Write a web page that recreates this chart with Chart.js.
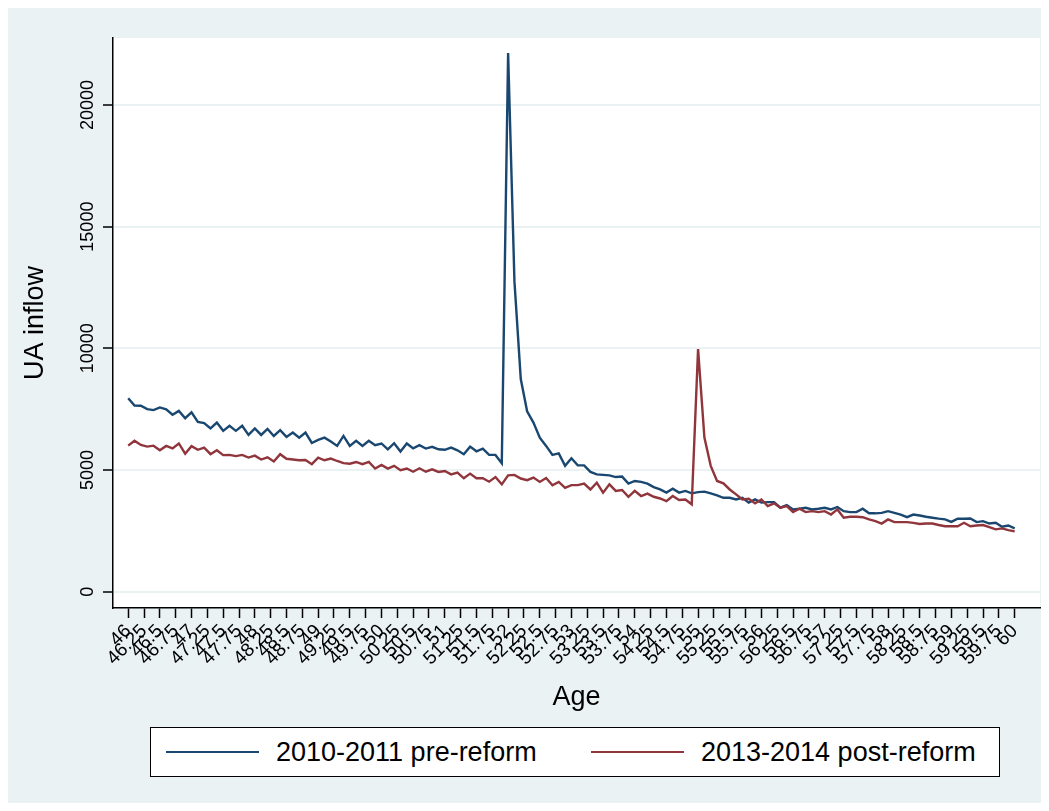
<!DOCTYPE html>
<html>
<head>
<meta charset="utf-8">
<script src="https://cdn.jsdelivr.net/npm/chart.js@4.4.1/dist/chart.umd.min.js"></script>
<style>
html, body { margin: 0; padding: 0; background: #fff; }
#wrap { position: relative; width: 1049px; height: 811px; }
canvas { display: block; }
#legend {
    position: absolute; left: 150px; top: 727px; width: 850px; height: 50px;
    border: 1px solid #000; background: #fff; box-sizing: border-box;
    display: flex; align-items: center; padding-left: 15px;
    font-family: 'Liberation Sans', Arial, Helvetica, sans-serif; font-size: 27px; color: #000;
    white-space: nowrap;
}
#legend .item { display: flex; align-items: center; flex: none; }
#legend .item:first-child { width: 425px; }
#legend .swatch { width: 93px; height: 0; border-top: 2px solid; margin-right: 17px; }
</style>
</head>
<body>
<div id="wrap">
<canvas id="uaChart" width="1049" height="811"></canvas>
<div id="legend"></div>
</div>
<script>
// Age grid: one point every 0.1 year from 46 to 60
const ages = [];
for (let i = 0; i <= 140; i++) ages.push(Math.round((46 + i * 0.1) * 10) / 10);

// UA inflow, 2010-2011 (pre-reform)
const preReform = [
    7950, 7650, 7640, 7500, 7460, 7570, 7490, 7270, 7430, 7130,
    7370, 6980, 6930, 6710, 6950, 6610, 6820, 6610, 6820, 6440,
    6710, 6440, 6690, 6400, 6640, 6360, 6540, 6330, 6540, 6110,
    6240, 6330, 6170, 5990, 6400, 5990, 6200, 5990, 6200, 6020,
    6090, 5850, 6100, 5760, 6090, 5890, 6020, 5880, 5950, 5850,
    5830, 5920, 5810, 5650, 5960, 5770, 5880, 5620, 5620, 5280,
    22130, 12750, 8740, 7410, 6950, 6330, 5990, 5620, 5680, 5170,
    5480, 5190, 5190, 4920, 4820, 4800, 4780, 4710, 4730, 4440,
    4550, 4510, 4440, 4300, 4200, 4070, 4230, 4070, 4140, 4040,
    4090, 4110, 4040, 3960, 3860, 3860, 3790, 3860, 3660, 3790,
    3660, 3680, 3680, 3450, 3560, 3380, 3410, 3450, 3380, 3410,
    3450, 3380, 3480, 3310, 3270, 3270, 3410, 3220, 3220, 3240,
    3310, 3240, 3170, 3060, 3170, 3130, 3080, 3040, 3000, 2970,
    2870, 3000, 3000, 3010, 2860, 2900, 2800, 2830, 2670, 2720,
    2600
];

// UA inflow, 2013-2014 (post-reform)
const postReform = [
    6000, 6200, 6030, 5960, 6000, 5810, 5990, 5890, 6090, 5670,
    5980, 5830, 5920, 5650, 5810, 5610, 5620, 5570, 5620, 5510,
    5590, 5430, 5520, 5350, 5650, 5460, 5430, 5400, 5410, 5240,
    5510, 5400, 5470, 5370, 5280, 5260, 5330, 5240, 5330, 5060,
    5210, 5060, 5170, 4990, 5060, 4930, 5070, 4930, 5030, 4920,
    4960, 4820, 4890, 4660, 4850, 4660, 4660, 4520, 4710, 4410,
    4780, 4800, 4650, 4580, 4690, 4510, 4670, 4370, 4510, 4270,
    4380, 4380, 4440, 4200, 4480, 4070, 4410, 4140, 4180, 3900,
    4140, 3930, 4030, 3900, 3830, 3720, 3930, 3770, 3790, 3590,
    9970, 6330, 5170, 4550, 4450, 4200, 4000, 3790, 3820, 3630,
    3790, 3520, 3630, 3450, 3520, 3270, 3410, 3270, 3310, 3270,
    3310, 3170, 3380, 3040, 3080, 3080, 3060, 2970, 2900, 2800,
    2970, 2860, 2860, 2860, 2830, 2780, 2800, 2800, 2740, 2690,
    2690, 2690, 2830, 2690, 2720, 2740, 2650, 2560, 2600, 2530,
    2480
];

const seriesLabels = ['2010-2011 pre-reform', '2013-2014 post-reform'];
const seriesColors = ['#1a476f', '#90353b'];

const xTicks = [
    46, 46.25, 46.5, 46.75, 47, 47.25, 47.5, 47.75, 48, 48.25, 48.5, 48.75,
    49, 49.25, 49.5, 49.75, 50, 50.25, 50.5, 50.75, 51, 51.25, 51.5, 51.75,
    52, 52.25, 52.5, 52.75, 53, 53.25, 53.5, 53.75, 54, 54.25, 54.5, 54.75,
    55, 55.25, 55.5, 55.75, 56, 56.25, 56.5, 56.75, 57, 57.25, 57.5, 57.75,
    58, 58.25, 58.5, 58.75, 59, 59.25, 59.5, 59.75, 60
];
const yTicks = [0, 5000, 10000, 15000, 20000];

const FONT = "'Liberation Sans', Arial, Helvetica, sans-serif";
Chart.defaults.font.family = FONT;
Chart.defaults.color = '#000';

const toPoints = (vals) => vals.map((v, i) => ({ x: ages[i], y: v }));

// Stata-like background: light graph region, white plot region
const backgroundPlugin = {
    id: 'stataBackground',
    beforeDraw(chart) {
        const { ctx, chartArea: a, width, height } = chart;
        ctx.save();
        ctx.fillStyle = '#ffffff';
        ctx.fillRect(0, 0, width, height);
        ctx.fillStyle = '#eaf2f3';
        ctx.fillRect(8, 8, width - 16, height - 16);
        ctx.fillStyle = '#ffffff';
        ctx.fillRect(a.left, a.top, a.right - a.left, a.bottom - a.top);
        ctx.restore();
    }
};

const ctx = document.getElementById('uaChart').getContext('2d');
const uaChart = new Chart(ctx, {
    type: 'line',
    data: {
        datasets: [
            {
                label: seriesLabels[0],
                data: toPoints(preReform),
                borderColor: seriesColors[0],
                backgroundColor: seriesColors[0],
                borderWidth: 2.4,
                pointRadius: 0,
                tension: 0,
                order: 1
            },
            {
                label: seriesLabels[1],
                data: toPoints(postReform),
                borderColor: seriesColors[1],
                backgroundColor: seriesColors[1],
                borderWidth: 2.4,
                pointRadius: 0,
                tension: 0,
                order: 0
            }
        ]
    },
    options: {
        responsive: false,
        animation: false,
        layout: { padding: { left: 0, right: 9, top: 38, bottom: 93 } },
        scales: {
            x: {
                type: 'linear',
                min: 45.76,
                max: 60.4,
                afterBuildTicks: (s) => { s.ticks = xTicks.map(v => ({ value: v })); },
                afterFit: (s) => { s.height = 110; },
                ticks: {
                    autoSkip: false,
                    minRotation: 45,
                    maxRotation: 45,
                    padding: 2,
                    font: { size: 19 },
                    color: '#000',
                    callback: (v) => String(v)
                },
                grid: { drawOnChartArea: false, tickColor: '#000', tickLength: 10, tickWidth: 1.5 },
                border: { color: '#000', width: 1.5 },
                title: { display: true, text: 'Age', font: { size: 27 }, color: '#000', padding: { top: 0, bottom: 4 } }
            },
            y: {
                type: 'linear',
                min: -670,
                max: 22750,
                afterBuildTicks: (s) => { s.ticks = yTicks.map(v => ({ value: v })); },
                afterFit: (s) => { s.width = 113; },
                ticks: {
                    minRotation: 90,
                    maxRotation: 90,
                    crossAlign: 'center',
                    padding: -10,
                    font: { size: 18 },
                    color: '#000',
                    callback: (v) => String(v)
                },
                grid: { color: '#eaf2f3', lineWidth: 2, tickColor: '#000', tickLength: 10, tickWidth: 1.5 },
                border: { color: '#000', width: 1.5 },
                title: { display: true, text: 'UA inflow', font: { size: 27 }, color: '#000', padding: { top: 19, bottom: 0 } }
            }
        },
        plugins: {
            legend: { display: false },
            tooltip: { enabled: false }
        }
    },
    plugins: [backgroundPlugin]
});

// legend box below the plot, built from the datasets
const legendEl = document.getElementById('legend');
uaChart.data.datasets.forEach(ds => {
    const item = document.createElement('div');
    item.className = 'item';
    const sw = document.createElement('span');
    sw.className = 'swatch';
    sw.style.borderTopColor = ds.borderColor;
    const txt = document.createElement('span');
    txt.textContent = ds.label;
    item.appendChild(sw);
    item.appendChild(txt);
    legendEl.appendChild(item);
});
</script>
</body>
</html>
